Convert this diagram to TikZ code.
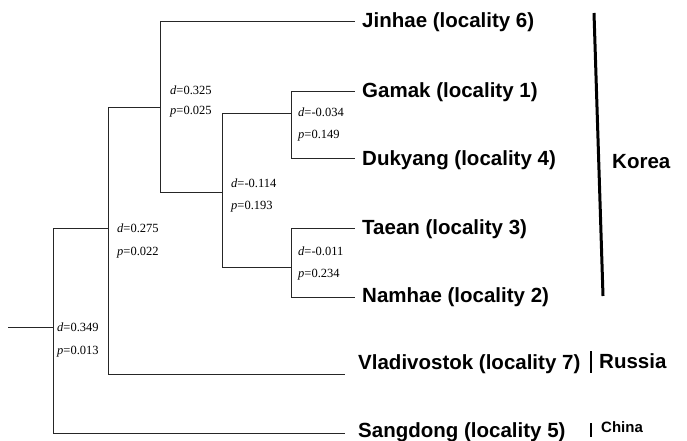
\documentclass[tikz,border=0pt]{standalone}
\usepackage{fontspec}
\setmainfont{Liberation Serif}
\newfontfamily\leaffont{Liberation Sans}
\begin{document}
\begin{tikzpicture}[x=1pt,y=-1pt,
  leaf/.style={font=\leaffont\bfseries\fontsize{20.5}{24}\selectfont, anchor=west, inner sep=0pt},
  region/.style={font=\leaffont\bfseries\fontsize{20.5}{24}\selectfont, anchor=west, inner sep=0pt},
  smallregion/.style={font=\leaffont\bfseries\fontsize{15}{18}\selectfont, anchor=west, inner sep=0pt},
  stat/.style={font=\fontsize{12.5}{14}\selectfont, anchor=west, inner sep=0pt},
  branch/.style={line width=0.7pt, draw=black!85},
  bar/.style={line width=3pt, draw=black},
  smallbar/.style={line width=2.5pt, draw=black}]
\useasboundingbox[fill=white] (0,0) rectangle (687,441);

% internal nodes (vertical line x, attachment y)
\coordinate (root0) at (8,327);
\coordinate (r)    at (53,327);
\coordinate (n275) at (108,228);
\coordinate (n325) at (160,107);
\coordinate (n114) at (222,192);
\coordinate (n034) at (291,113);
\coordinate (n011) at (291,267);

% leaf tips
\coordinate (tJin) at (355,21);
\coordinate (tGam) at (355,91);
\coordinate (tDuk) at (355,158);
\coordinate (tTae) at (355,228);
\coordinate (tNam) at (355,297);
\coordinate (tVla) at (345,374);
\coordinate (tSan) at (345,433);

% leaf labels
\node[leaf] (jin) at (362,22)  {Jinhae (locality 6)};
\node[leaf] (gam) at (362,92)  {Gamak (locality 1)};
\node[leaf] (duk) at (362,160) {Dukyang (locality 4)};
\node[leaf] (tae) at (362,229) {Taean (locality 3)};
\node[leaf] (nam) at (362,297) {Namhae (locality 2)};
\node[leaf] (vla) at (358,364) {Vladivostok (locality 7)};
\node[leaf] (san) at (358,432) {Sangdong (locality 5)};

% branches
\draw[branch] (root0) -- (r);
\draw[branch] (r) |- (n275);
\draw[branch] (r) |- (tSan);
\draw[branch] (n275) |- (n325);
\draw[branch] (n275) |- (tVla);
\draw[branch] (n325) |- (tJin);
\draw[branch] (n325) |- (n114);
\draw[branch] (n114) |- (n034);
\draw[branch] (n114) |- (n011);
\draw[branch] (n034) |- (tGam);
\draw[branch] (n034) |- (tDuk);
\draw[branch] (n011) |- (tTae);
\draw[branch] (n011) |- (tNam);

% statistics
\node[stat] (d325) at (170,90)  {{\itshape d}=0.325};
\node[stat] (p325) at (170,112) {{\itshape p}=0.025};
\node[stat] (d034) at (298,112) {{\itshape d}=-0.034};
\node[stat] (p034) at (298,136) {{\itshape p}=0.149};
\node[stat] (d114) at (231,183) {{\itshape d}=-0.114};
\node[stat] (p114) at (231,207) {{\itshape p}=0.193};
\node[stat] (d275) at (117,228) {{\itshape d}=0.275};
\node[stat] (p275) at (117,253) {{\itshape p}=0.022};
\node[stat] (d011) at (298,251) {{\itshape d}=-0.011};
\node[stat] (p011) at (298,275) {{\itshape p}=0.234};
\node[stat] (d349) at (57,327)  {{\itshape d}=0.349};
\node[stat] (p349) at (57,352)  {{\itshape p}=0.013};

% regions
\coordinate (kTop) at (594,13);
\coordinate (kBot) at (603,296);
\draw[bar] (kTop) -- (kBot);
\node[region] (korea) at (612,162) {Korea};
\coordinate (rTop) at (591,351);
\coordinate (rBot) at (591,373);
\draw[smallbar] (rTop) -- (rBot);
\node[region] (russia) at (599,361) {Russia};
\coordinate (cTop) at (591,423);
\coordinate (cBot) at (591,437);
\draw[smallbar] (cTop) -- (cBot);
\node[smallregion] (china) at (601,427) {China};
\end{tikzpicture}
\end{document}
